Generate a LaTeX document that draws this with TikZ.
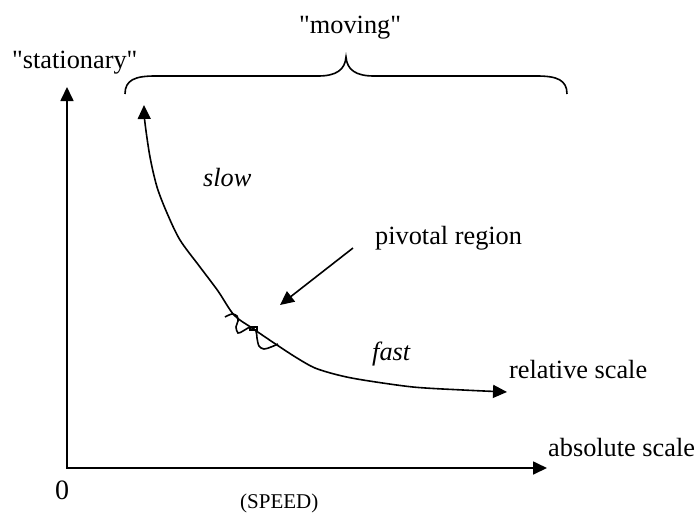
\documentclass[tikz,border=0pt]{standalone}
\usepackage{fontspec}
\setmainfont{Liberation Serif}
\usepackage{tikz}
\usetikzlibrary{arrows.meta,positioning}

\begin{document}
\begin{tikzpicture}[x=1pt,y=-1pt,
  >={Triangle[length=14pt,width=13pt]},
  lbl/.style={inner sep=0pt,anchor=base west,font=\fontsize{26.3}{30}\selectfont},
  axis/.style={line width=1.7pt},
  curve/.style={line width=1.6pt}]
\useasboundingbox (0,0) rectangle (696,515);

% axes
\coordinate (origin) at (67,468);
\coordinate (ytip) at (67,87);
\coordinate (xtip) at (547,468);
\draw[axis,<->] (ytip) -- (origin) -- (xtip);

% labels
\node[lbl] (stat) at (12,68) {\textquotedbl stationary\textquotedbl};
\node[lbl] (moving) at (299,33) {\textquotedbl moving\textquotedbl};
\node[lbl,font=\fontsize{26.3}{30}\selectfont\itshape] (slow) at (203,186) {slow};
\node[lbl,font=\fontsize{26.3}{30}\selectfont\itshape] (fast) at (372,360) {fast};
\node[lbl] (pivot) at (375,244) {pivotal region};
\node[lbl] (rel) at (509,378) {relative scale};
\node[lbl] (abs) at (548,456) {absolute scale};
\node[lbl,font=\fontsize{28}{32}\selectfont] (zero) at (55,499) {0};
\node[lbl,font=\fontsize{21}{24}\selectfont] (speed) at (240,508) {(SPEED)};

% brace over the moving part
\draw[curve] (125,94) .. controls (125,80) and (135,76) .. (155,76) -- (318,76)
  .. controls (336,76) and (345,70) .. (346,57)
  .. controls (347,70) and (356,76) .. (374,76) -- (537,76)
  .. controls (557,76) and (567,80) .. (567,94);

% speed curve
\draw[curve,<->] plot[smooth] coordinates {(144,105) (145,123) (150,157) (157,187)
  (167,213) (180,240) (200,267) (218,291) (234,315) (252,328) (277,345)
  (297,358) (315,368) (338,375) (363,380) (413,387) (463,390) (507,392)};

% squiggle at the pivot
\draw[line width=1.6pt] plot[smooth,tension=0.55] coordinates {(225,317) (232,314)
  (237,316) (238,321) (236,327) (238,333) (243,331) (248,328) (251,327)
  (256,331) (257,338) (259,346) (264,349) (271,347) (278,344)};
\draw[line width=1.3pt] (250,327) rectangle (257,330);

% pointer
\coordinate (pivtail) at (353,248);
\coordinate (pivtip) at (280,305);
\draw[curve,->] (pivtail) -- (pivtip);
\end{tikzpicture}
\end{document}
